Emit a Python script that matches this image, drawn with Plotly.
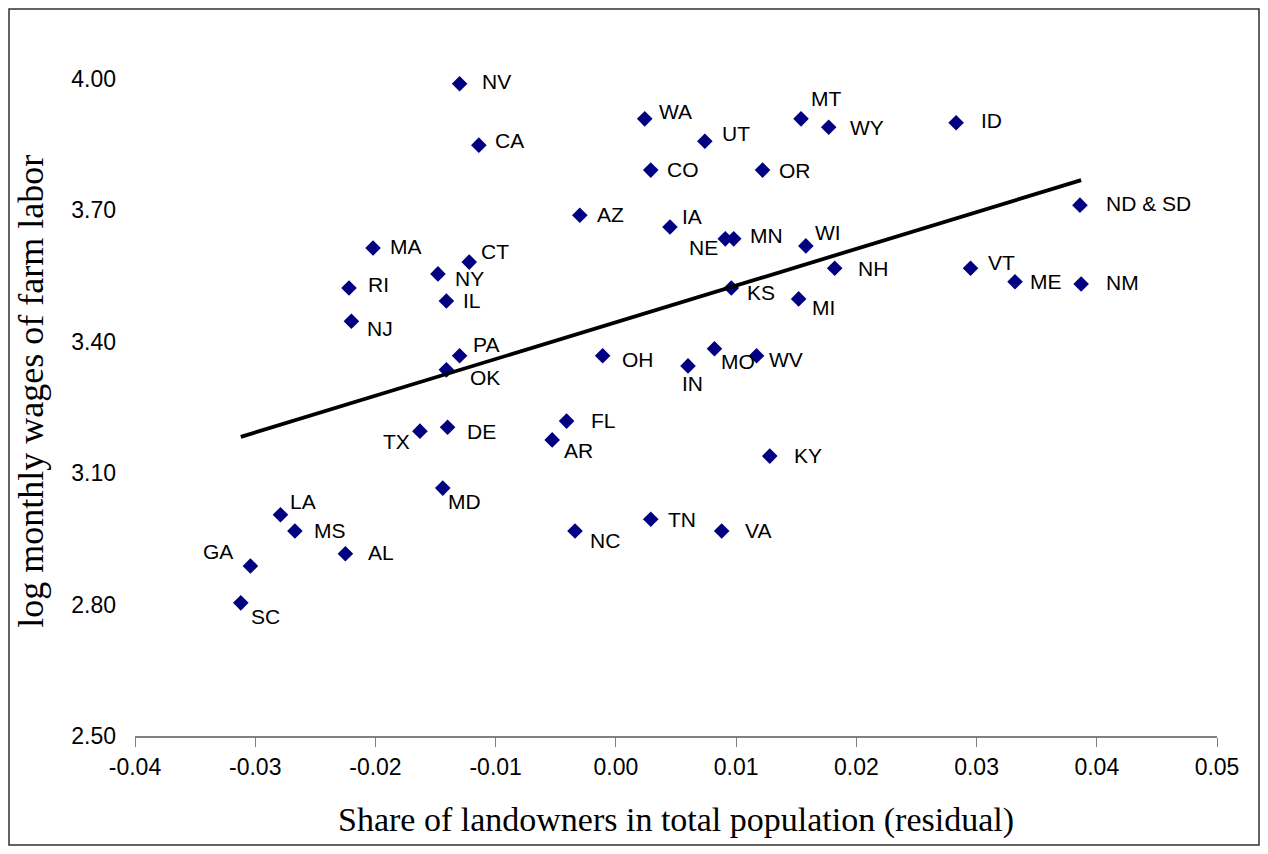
import plotly.graph_objects as go

states = ["NV", "CA", "WA", "UT", "MT", "WY", "ID", "CO", "OR", "AZ", "IA", "NE", "MN", "WI",
          "MA", "CT", "NY", "RI", "IL", "NJ", "KS", "MI", "NH", "VT", "ME", "NM", "ND & SD",
          "PA", "OK", "OH", "IN", "MO", "WV", "FL", "AR", "TX", "DE", "KY", "MD", "TN", "VA",
          "NC", "LA", "MS", "AL", "GA", "SC"]
share_resid = [-0.0130, -0.0114, 0.0024, 0.0074, 0.0154, 0.0177, 0.0283, 0.0029, 0.0122, -0.0030,
               0.0045, 0.0091, 0.0098, 0.0158, -0.0202, -0.0122, -0.0148, -0.0222, -0.0141, -0.0220,
               0.0096, 0.0152, 0.0182, 0.0295, 0.0332, 0.0387, 0.0386, -0.0130, -0.0141, -0.0011,
               0.0060, 0.0082, 0.0117, -0.0041, -0.0053, -0.0163, -0.0140, 0.0128, -0.0144, 0.0029,
               0.0088, -0.0034, -0.0279, -0.0267, -0.0225, -0.0304, -0.0312]
log_wage = [3.989, 3.849, 3.909, 3.858, 3.909, 3.890, 3.900, 3.792, 3.792, 3.689,
            3.662, 3.635, 3.635, 3.619, 3.614, 3.582, 3.555, 3.523, 3.493, 3.447,
            3.523, 3.498, 3.568, 3.568, 3.537, 3.532, 3.712, 3.368, 3.336, 3.368,
            3.345, 3.384, 3.368, 3.219, 3.176, 3.196, 3.205, 3.139, 3.066, 2.995,
            2.968, 2.968, 3.005, 2.968, 2.916, 2.888, 2.804]

trend_x = [-0.0312, 0.0387]
trend_y = [3.183, 3.769]

x_ticks = [-0.04, -0.03, -0.02, -0.01, 0.00, 0.01, 0.02, 0.03, 0.04, 0.05]
y_ticks = [2.50, 2.80, 3.10, 3.40, 3.70, 4.00]

x_title = "Share of landowners in total population (residual)"
y_title = "log monthly wages of farm labor"

# label placement (style): (xanchor, xshift px, yshift px; positive yshift = down)
label_style = {
    "NV": ("left", 20, -2), "CA": ("left", 14, -5), "WA": ("left", 12, -7), "UT": ("left", 15, -8),
    "MT": ("left", 8, -20), "WY": ("left", 19, 0), "ID": ("left", 23, -2), "CO": ("left", 14, -1),
    "OR": ("left", 14, 0), "AZ": ("left", 15, -1), "IA": ("left", 10, -11), "NE": ("right", -5, 9),
    "MN": ("left", 14, -3), "WI": ("left", 7, -13), "MA": ("left", 15, -2), "CT": ("left", 10, -11),
    "NY": ("left", 15, 5), "RI": ("left", 17, -3), "IL": ("left", 15, -1), "NJ": ("left", 14, 7),
    "KS": ("left", 14, 5), "MI": ("left", 11, 9), "NH": ("left", 21, 0), "VT": ("left", 15, -6),
    "ME": ("left", 13, 0), "NM": ("left", 23, -1), "ND & SD": ("left", 24, -2), "PA": ("left", 11, -11),
    "OK": ("left", 22, 8), "OH": ("left", 17, 4), "IN": ("center", 4, 18), "MO": ("left", 5, 13),
    "WV": ("left", 10, 4), "FL": ("left", 22, -1), "AR": ("left", 10, 11), "TX": ("right", -8, 10),
    "DE": ("left", 17, 4), "KY": ("left", 22, -1), "MD": ("left", 3, 13), "TN": ("left", 15, 0),
    "VA": ("left", 21, -1), "NC": ("left", 13, 9), "LA": ("left", 8, -13), "MS": ("left", 17, -1),
    "AL": ("left", 21, -1), "GA": ("right", -15, -15), "SC": ("left", 8, 14),
}

fig = go.Figure()
fig.add_trace(go.Scatter(
    x=share_resid, y=log_wage, mode="markers",
    marker=dict(symbol="diamond", size=12, color="#000080", line=dict(width=0)),
    hovertext=states, showlegend=False, cliponaxis=False,
))
fig.add_trace(go.Scatter(
    x=trend_x, y=trend_y, mode="lines",
    line=dict(color="black", width=3.8), showlegend=False,
))

annotations = []
for s, xv, yv in zip(states, share_resid, log_wage):
    anc, dx, dy = label_style[s]
    annotations.append(dict(
        x=xv, y=yv, xref="x", yref="y", text=s, showarrow=False,
        xanchor=anc, yanchor="middle", xshift=dx, yshift=-dy,
        font=dict(family="Liberation Sans, Arial", size=21, color="black"),
    ))

W, H = 1252, 838
ML, MR, MT_, MB = 127, 43, 71, 110
pw, ph = W - ML - MR, H - MT_ - MB

# y-axis title as a rotated annotation (placed slightly above the plot-area centre, as in the original)
annotations.append(dict(
    xref="paper", yref="paper", x=-(ML - 23) / pw, y=0.524, text=y_title, showarrow=False,
    textangle=-90, xanchor="center", yanchor="middle",
    font=dict(family="Liberation Serif, Times New Roman", size=36, color="black"),
))

fig.update_layout(
    width=W, height=H,
    margin=dict(l=ML, r=MR, t=MT_, b=MB),
    paper_bgcolor="white", plot_bgcolor="white",
    annotations=annotations,
    xaxis=dict(
        range=[-0.04, 0.05], tickvals=x_ticks, ticktext=[f"{v:.2f}" for v in x_ticks],
        showgrid=False, zeroline=False, showline=True, linecolor="#808080", linewidth=2,
        ticks="outside", ticklen=9, tickcolor="#808080", tickwidth=1.2,
        tickfont=dict(family="Liberation Sans, Arial", size=23, color="black"),
        title=dict(text=x_title,
                   font=dict(family="Liberation Serif, Times New Roman", size=34, color="black"),
                   standoff=29),
    ),
    yaxis=dict(
        range=[2.5, 4.0], tickvals=y_ticks, ticktext=[f"{v:.2f}" for v in y_ticks],
        showgrid=False, zeroline=False, showline=False, ticks="",
        ticklabelstandoff=18,
        tickfont=dict(family="Liberation Sans, Arial", size=23, color="black"),
    ),
    shapes=[dict(type="rect", xref="paper", yref="paper",
                 x0=-(ML - 1) / pw, x1=(pw + MR - 1) / pw,
                 y0=-(MB - 1) / ph, y1=(ph + MT_ - 1) / ph,
                 line=dict(color="#303030", width=1.5), fillcolor="rgba(0,0,0,0)", layer="below")],
)

fig.write_html("out.html")
